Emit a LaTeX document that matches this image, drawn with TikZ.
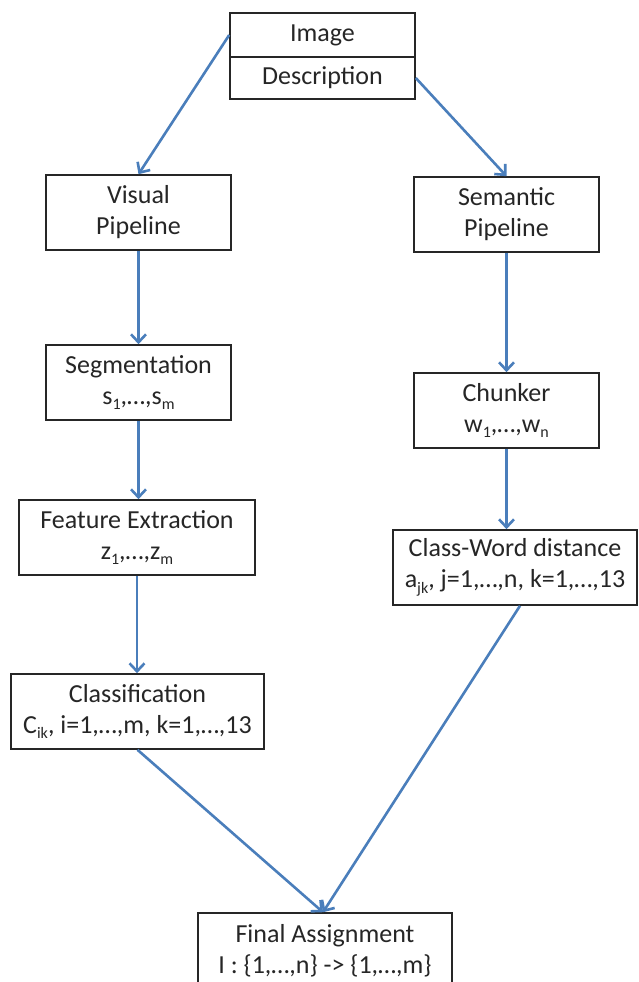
\documentclass[tikz,border=0pt]{standalone}
\usepackage{fontspec}
\setmainfont{Carlito}
\usetikzlibrary{arrows.meta,calc}
\definecolor{flowblue}{RGB}{74,126,187}
\definecolor{inktext}{RGB}{38,38,38}
% small lowered index, as used in the second line of the boxes
\newcommand\lowsub[1]{\raisebox{-0.22em}{\fontsize{16}{16}\selectfont #1}}

\begin{document}
\begin{tikzpicture}[x=1pt,y=-1pt,
  box/.style={draw=black!85, line width=1.6pt, fill=white, text=inktext,
    align=center, inner sep=0pt, font=\fontsize{26}{31}\selectfont},
  flow/.style={draw=flowblue, line width=2.6pt,
    -{Straight Barb[length=8pt,width=15pt]}}]
\useasboundingbox (0,0) rectangle (638,982);
\begin{scope}
\clip (0,0) rectangle (638,982);

% input: image with its description
\node[box, minimum width=185pt, minimum height=44pt] (img) at (322.5,35) {Image};
\node[box, minimum width=185pt, minimum height=42pt] (desc) at (322.5,78) {Description};

% visual branch
\node[box, minimum width=185pt, minimum height=75pt] (vis) at (138.5,212.5) {Visual\\Pipeline};
\node[box, minimum width=185pt, minimum height=75pt] (seg) at (138.5,382.5) {Segmentation\\s\lowsub{1},\dots,s\lowsub{m}};
\node[box, minimum width=236pt, minimum height=75pt] (feat) at (137,537.5) {Feature Extraction\\z\lowsub{1},\dots,z\lowsub{m}};
\node[box, minimum width=253pt, minimum height=75pt] (cls) at (137.5,711.5) {Classification\\C\lowsub{ik}, i=1,\dots,m, k=1,\dots,13};

% semantic branch
\node[box, minimum width=185pt, minimum height=75pt] (sem) at (506.5,214.5) {Semantic\\Pipeline};
\node[box, minimum width=185pt, minimum height=75pt] (chk) at (506.5,410.5) {Chunker\\w\lowsub{1},\dots,w\lowsub{n}};
\node[box, minimum width=244pt, minimum height=75pt] (cwd) at (515,567.5) {Class-Word distance\\a\lowsub{jk}, j=1,\dots,n, k=1,\dots,13};

% joint result
\node[box, minimum width=254pt, minimum height=75pt] (fin) at (325,950.5) {Final Assignment\\I : \{1,\dots,n\} -> \{1,\dots,m\}};

% connectors
\draw[flow] (img.west) -- (vis.north);
\draw[flow] (desc.east) -- (sem.north);
\draw[flow] (vis.south) -- (seg.north);
\draw[flow] (seg.south) -- (seg.south |- feat.north);
\draw[flow] (feat.south) -- (feat.south |- cls.north);
\draw[flow] (sem.south) -- (chk.north);
\draw[flow] (chk.south) -- (chk.south |- cwd.north);
\draw[flow] (cls.south) -- ([xshift=-2pt]fin.north);
\draw[flow] ([xshift=5pt]cwd.south) -- ([xshift=-2pt]fin.north);
\end{scope}
\end{tikzpicture}
\end{document}
